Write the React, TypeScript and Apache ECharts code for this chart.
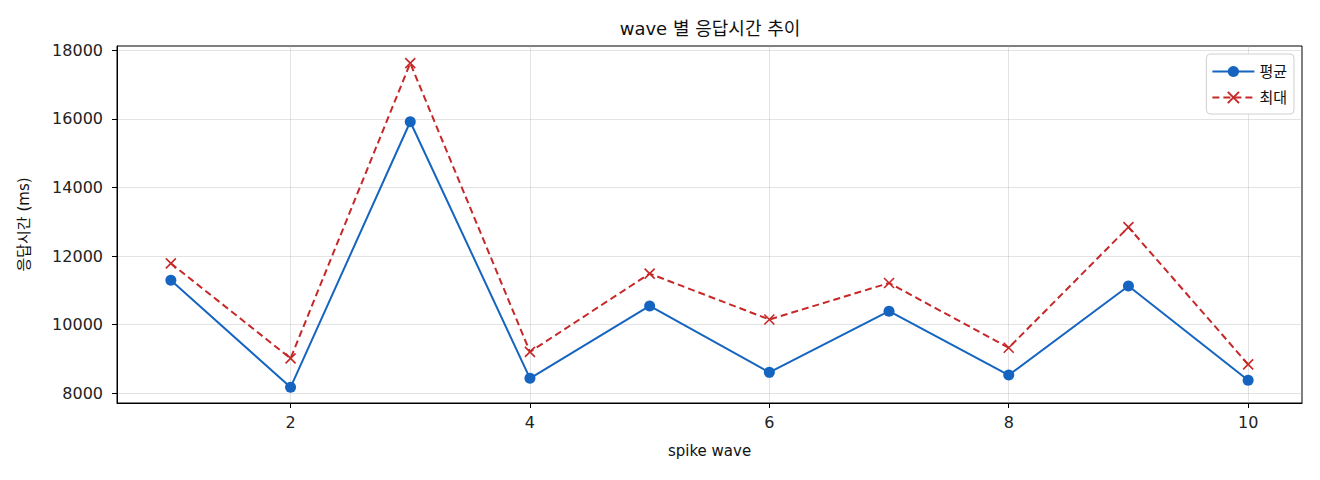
import * as echarts from "echarts";
import { useEffect, useRef } from "react";

const waves = [1, 2, 3, 4, 5, 6, 7, 8, 9, 10];
const avgMs = [11294, 8174, 15916, 8436, 10547, 8610, 10392, 8532, 11128, 8378];
const maxMs = [11788, 9017, 17622, 9209, 11488, 10151, 11215, 9326, 12843, 8843];
const xTicks = [2, 4, 6, 8, 10];
const yTicks = [8000, 10000, 12000, 14000, 16000, 18000];

const FONT = "'DejaVu Sans', 'Noto Sans CJK KR', sans-serif";
const X_MARK = "path://M0,0L10,10M10,0L0,10";

export default function App() {
  const ref = useRef<HTMLDivElement | null>(null);

  useEffect(() => {
    const el = ref.current;
    if (el === null) return;
    const chart = echarts.init(el, null, { renderer: "svg" });

    const tickLabel = { color: "#222", fontFamily: FONT, fontSize: 16 };
    const gridLine = { show: true, lineStyle: { color: "rgba(176,176,176,0.35)", width: 1 } };

    chart.setOption({
      animation: false,
      backgroundColor: "#fff",
      textStyle: { fontFamily: FONT },
      title: {
        text: "wave 별 응답시간 추이",
        left: 710,
        textAlign: "center",
        top: 19,
        padding: 0,
        textStyle: { fontFamily: FONT, fontSize: 18, fontWeight: "normal", color: "#111" },
      },
      grid: {
        left: 117,
        right: 18,
        top: 46,
        bottom: 77,
        show: true,
        borderColor: "#000",
        borderWidth: 1,
        backgroundColor: "transparent",
      },
      legend: {
        orient: "vertical",
        right: 26,
        top: 54,
        padding: [10, 7, 9, 5],
        itemGap: 11,
        itemWidth: 42,
        itemHeight: 14,
        backgroundColor: "#fff",
        borderColor: "#d0d0d0",
        borderWidth: 1,
        borderRadius: 4,
        textStyle: { fontFamily: FONT, fontSize: 15, color: "#111" },
        data: ["평균", "최대"],
      },
      xAxis: {
        type: "value",
        min: 0.55,
        max: 10.45,
        name: "spike wave",
        nameLocation: "middle",
        nameGap: 40,
        nameTextStyle: { fontFamily: FONT, fontSize: 15, color: "#111" },
        axisLine: { show: true, lineStyle: { color: "#000", width: 1 } },
        axisTick: { show: true, length: 5, customValues: xTicks, lineStyle: { color: "#000" } },
        axisLabel: { ...tickLabel, margin: 11, customValues: xTicks },
        splitLine: gridLine,
      },
      yAxis: {
        type: "value",
        min: 7717,
        max: 18123,
        name: "응답시간 (ms)",
        nameLocation: "middle",
        nameGap: 86,
        nameTextStyle: { fontFamily: FONT, fontSize: 15, color: "#111" },
        axisLine: { show: true, lineStyle: { color: "#000", width: 1 } },
        axisTick: { show: true, length: 5, customValues: yTicks, lineStyle: { color: "#000" } },
        axisLabel: {
          ...tickLabel,
          margin: 14,
          customValues: yTicks,
          formatter: (v: number) => String(v),
        },
        splitLine: gridLine,
      },
      series: [
        {
          name: "평균",
          type: "line",
          data: waves.map((w, i) => [w, avgMs[i]]),
          symbol: "circle",
          symbolSize: 11,
          lineStyle: { color: "#1565C0", width: 2 },
          itemStyle: { color: "#1565C0" },
          z: 3,
        },
        {
          name: "최대",
          type: "line",
          data: waves.map((w, i) => [w, maxMs[i]]),
          symbol: X_MARK,
          symbolSize: 10,
          lineStyle: { color: "#C62828", width: 2, type: [7, 4] },
          itemStyle: { color: "transparent", borderColor: "#C62828", borderWidth: 1.6 },
          z: 2,
        },
      ],
    });

    return () => chart.dispose();
  }, []);

  return (
    <div
      ref={ref}
      style={{ position: "absolute", left: 0, top: 0, width: 1320, height: 480 }}
    />
  );
}
